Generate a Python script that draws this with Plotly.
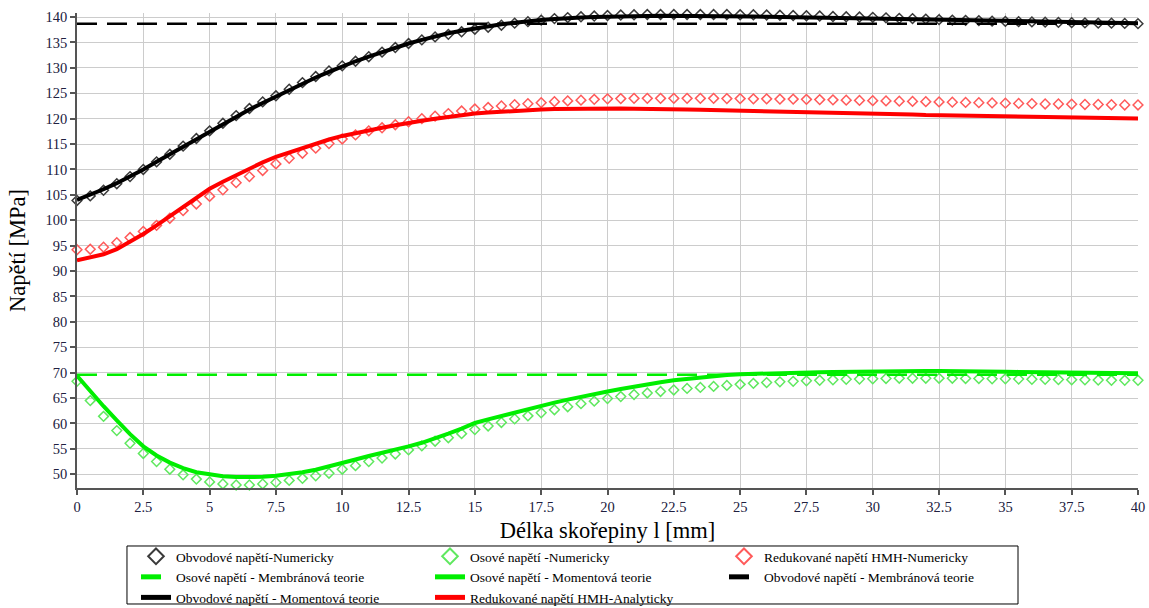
import plotly.graph_objects as go

# x grid (mm), sampled every 0.5 mm
x_mm = [i * 0.5 for i in range(81)]

obvodove_num = [
    103.9, 104.8, 105.9, 107.2, 108.6, 110.0, 111.5, 113.0, 114.6, 116.1,
    117.6, 119.1, 120.6, 122.0, 123.3, 124.5, 125.8, 127.1, 128.3, 129.4,
    130.4, 131.3, 132.2, 133.1, 134.0, 134.8, 135.5, 136.1, 136.6, 137.1,
    137.6,
    138.0, 138.4, 138.8, 139.1, 139.4, 139.7, 139.9, 140.05, 140.2, 140.3,
    140.4, 140.45, 140.5, 140.5, 140.5, 140.5, 140.5, 140.5, 140.5, 140.45,
    140.45, 140.4, 140.35, 140.3, 140.25, 140.2, 140.1, 140.05, 140.0, 139.95,
    139.85, 139.75, 139.7, 139.6, 139.5, 139.4, 139.35, 139.3, 139.2, 139.15,
    139.1, 139.05, 139.0, 138.95, 138.9, 138.85, 138.8, 138.8, 138.75, 138.7,
]

obvodove_mom = [
    104.0, 105.0, 106.1, 107.3, 108.6, 110.0, 111.5, 113.0, 114.5, 116.0,
    117.5, 119.0, 120.4, 121.8, 123.1, 124.4, 125.7, 126.9, 128.1, 129.2,
    130.3, 131.3, 132.2, 133.1, 134.0, 134.8, 135.5, 136.2, 136.8, 137.3,
    137.8,
    138.2, 138.6, 138.9, 139.2, 139.4, 139.6, 139.8, 139.9, 140.0, 140.1,
    140.15, 140.2, 140.2, 140.25, 140.25, 140.25, 140.2, 140.2, 140.2, 140.15,
    140.1, 140.05, 140.0, 139.95, 139.9, 139.85, 139.8, 139.75, 139.7, 139.6,
    139.55, 139.5, 139.45, 139.4, 139.35, 139.3, 139.25, 139.2, 139.15, 139.1,
    139.05, 139.0, 138.95, 138.95, 138.9, 138.9, 138.85, 138.85, 138.8, 138.8,
]

redukovane_num = [
    94.2, 94.3, 94.7, 95.6, 96.6, 97.8, 99.0, 100.4, 101.9, 103.2,
    104.7, 106.0, 107.4, 108.6, 109.8, 111.1, 112.2, 113.2, 114.2, 115.1,
    116.0, 116.8, 117.6, 118.2, 118.8, 119.4, 120.0, 120.5, 121.0, 121.5,
    121.9,
    122.2, 122.5, 122.75, 122.95, 123.15, 123.35, 123.5, 123.65, 123.8, 123.9,
    123.95, 124.0, 124.0, 124.0, 124.0, 124.0, 124.0, 124.0, 123.95, 123.95,
    123.9, 123.9, 123.85, 123.85, 123.8, 123.75, 123.7, 123.65, 123.6, 123.55,
    123.5, 123.45, 123.4, 123.35, 123.3, 123.25, 123.2, 123.15, 123.1, 123.05,
    123.0, 122.95, 122.9, 122.9, 122.85, 122.8, 122.8, 122.75, 122.7, 122.7,
]

redukovane_anal = [
    92.1, 92.6, 93.3, 94.3, 95.7, 97.3, 99.0, 100.8, 102.6, 104.5,
    106.2, 107.6, 108.9, 110.2, 111.4, 112.5, 113.4, 114.3, 115.1, 115.9,
    116.6, 117.2, 117.7, 118.2, 118.7, 119.2, 119.6, 120.0, 120.4, 120.7,
    121.0,
    121.2, 121.4, 121.55, 121.7, 121.8, 121.9, 121.95, 122.0, 122.0, 122.0,
    122.0, 121.95, 121.95, 121.9, 121.85, 121.8, 121.75, 121.7, 121.65, 121.6,
    121.55, 121.5, 121.45, 121.4, 121.3, 121.25, 121.2, 121.1, 121.05, 121.0,
    120.9, 120.85, 120.8, 120.7, 120.65, 120.6, 120.55, 120.5, 120.45, 120.4,
    120.35, 120.3, 120.3, 120.25, 120.2, 120.2, 120.15, 120.1, 120.1, 120.05,
]

osove_num = [
    68.3, 64.5, 61.4, 58.6, 56.1, 54.1, 52.5, 51.0, 49.9, 49.05,
    48.5, 48.1, 47.9, 47.9, 48.1, 48.4, 48.8, 49.2, 49.7, 50.2,
    51.0, 51.7, 52.5, 53.2, 54.0, 54.8, 55.6, 56.5, 57.2, 58.0,
    58.8,
    59.5, 60.2, 60.9, 61.5, 62.1, 62.7, 63.3, 63.9, 64.4, 64.9,
    65.3, 65.7, 66.0, 66.3, 66.6, 66.9, 67.1, 67.3, 67.5, 67.7,
    67.9, 68.05, 68.2, 68.3, 68.4, 68.5, 68.6, 68.7, 68.75, 68.8,
    68.85, 68.9, 68.9, 68.9, 68.9, 68.9, 68.85, 68.85, 68.8, 68.8,
    68.75, 68.7, 68.7, 68.65, 68.6, 68.6, 68.55, 68.5, 68.5, 68.5,
]

osove_mom = [
    69.4, 66.3, 63.4, 60.6, 57.9, 55.5, 53.7, 52.3, 51.2, 50.4,
    49.9, 49.6, 49.45, 49.4, 49.5, 49.7, 50.0, 50.4, 50.9, 51.5,
    52.2, 52.9, 53.6, 54.2, 54.9, 55.5, 56.2, 57.0, 58.0, 59.0,
    60.1,
    60.8, 61.5, 62.2, 62.9, 63.5, 64.1, 64.7, 65.3, 65.8, 66.3,
    66.8, 67.3, 67.7, 68.1, 68.5, 68.8, 69.1, 69.35, 69.55, 69.7,
    69.8, 69.9, 69.95, 70.0, 70.05, 70.1, 70.15, 70.2, 70.25, 70.3,
    70.3, 70.35, 70.35, 70.35, 70.35, 70.35, 70.3, 70.3, 70.25, 70.2,
    70.15, 70.1, 70.1, 70.05, 70.0, 70.0, 69.95, 69.95, 69.9, 69.9,
]

membr_x = [0, 40]
osove_membr = [69.6, 69.6]
obvodove_membr = [138.7, 138.7]

x_ticks = [0, 2.5, 5, 7.5, 10, 12.5, 15, 17.5, 20, 22.5, 25, 27.5, 30, 32.5, 35, 37.5, 40]
x_tick_text = ["0", "2.5", "5", "7.5", "10", "12.5", "15", "17.5", "20", "22.5",
               "25", "27.5", "30", "32.5", "35", "37.5", "40"]
y_ticks = list(range(50, 141, 5))

FONT = "Liberation Serif"
GREEN = "#00ee00"
GREEN_M = "#5fe85f"
RED = "#ff0000"
RED_M = "#ff5a5a"
BLACK = "#000000"
BLACK_M = "#3a3a3a"

DASH = "20px,10px"


def markers(color):
    return dict(symbol="diamond-open", size=7.5, color=color,
                line=dict(width=1.5, color=color))


fig = go.Figure()

# Traces in legend order
fig.add_trace(go.Scatter(x=x_mm, y=obvodove_num, mode="markers", cliponaxis=False,
                         name="Obvodové napětí-Numericky", marker=markers(BLACK_M)))
fig.add_trace(go.Scatter(x=x_mm, y=osove_num, mode="markers", cliponaxis=False,
                         name="Osové napětí -Numericky", marker=markers(GREEN_M)))
fig.add_trace(go.Scatter(x=x_mm, y=redukovane_num, mode="markers", cliponaxis=False,
                         name="Redukované napětí HMH-Numericky", marker=markers(RED_M)))
fig.add_trace(go.Scatter(x=membr_x, y=osove_membr, mode="lines",
                         name="Osové napětí - Membránová teorie",
                         line=dict(color=GREEN, width=2.5, dash=DASH)))
fig.add_trace(go.Scatter(x=x_mm, y=osove_mom, mode="lines",
                         name="Osové napětí - Momentová teorie",
                         line=dict(color=GREEN, width=4)))
fig.add_trace(go.Scatter(x=membr_x, y=obvodove_membr, mode="lines",
                         name="Obvodové napětí - Membránová teorie",
                         line=dict(color=BLACK, width=2.5, dash=DASH)))
fig.add_trace(go.Scatter(x=x_mm, y=obvodove_mom, mode="lines",
                         name="Obvodové napětí - Momentová teorie",
                         line=dict(color=BLACK, width=4)))
fig.add_trace(go.Scatter(x=x_mm, y=redukovane_anal, mode="lines",
                         name="Redukované napětí HMH-Analyticky",
                         line=dict(color=RED, width=4)))

axis_common = dict(
    showline=True, linecolor="#555555", linewidth=1.5,
    ticks="outside", ticklen=5, tickcolor="#555555", tickwidth=1.5,
    showgrid=True, gridcolor="#cccccc", gridwidth=1,
    zeroline=False,
    tickfont=dict(family=FONT, size=14.5, color="#202040"),
)

fig.update_layout(
    width=1149, height=608,
    margin=dict(l=77, r=11, t=13, b=120, autoexpand=False),
    paper_bgcolor="white", plot_bgcolor="white",
    font=dict(family=FONT, color="#000000"),
    showlegend=True,
    xaxis=dict(range=[0, 40], tickmode="array", tickvals=x_ticks, ticktext=x_tick_text,
               title=dict(text="Délka skořepiny l [mm]", font=dict(family=FONT, size=22.5),
                          standoff=8),
               **axis_common),
    yaxis=dict(range=[47.3, 140.8], tickmode="array", tickvals=y_ticks,
               title=dict(text="Napětí [MPa]", font=dict(family=FONT, size=22.5),
                          standoff=14),
               **axis_common),
    legend=dict(
        orientation="h", x=0.0556, xanchor="left", y=-0.1116, yanchor="top",
        entrywidth=249, entrywidthmode="pixels",
        borderwidth=0, bgcolor="rgba(0,0,0,0)",
        font=dict(family=FONT, size=13.5, color="#000000"),
        itemsizing="constant", tracegroupgap=0,
    ),
    shapes=[dict(type="rect", xref="paper", yref="paper",
                 x0=0.0471, x1=0.8869, y0=-0.1221, y1=-0.2442,
                 line=dict(color="#000000", width=1), fillcolor="rgba(0,0,0,0)",
                 layer="above")],
)

fig.write_html("out.html")
